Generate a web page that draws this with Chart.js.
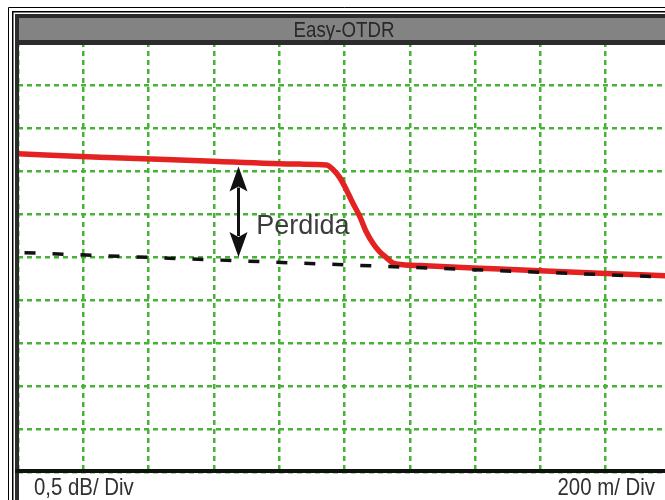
<!DOCTYPE html>
<html>
<head>
<meta charset="utf-8">
<title>Easy-OTDR</title>
<script src="https://cdn.jsdelivr.net/npm/chart.js@4/dist/chart.umd.min.js"></script>
<style>
  html, body { margin: 0; padding: 0; background: #fff; overflow: hidden; width: 665px; height: 500px; }
  #wrap { position: relative; width: 680px; height: 500px; }
</style>
</head>
<body>
<div id="wrap"><canvas id="otdr" width="680" height="500"></canvas></div>
<script>
// OTDR trace: distance along the fibre (m) and relative level (dB)
const traceDist = [0, 250, 557, 863, 945, 964, 986, 1006, 1025, 1047, 1067, 1087, 1108, 1129, 1148, 1179, 1231, 1476, 1782, 2000];
const traceLoss = [3.70, 3.66, 3.62, 3.58, 3.57, 3.52, 3.42, 3.28, 3.13, 2.97, 2.79, 2.66, 2.56, 2.49, 2.43, 2.41, 2.40, 2.36, 2.31, 2.28];

// Reference line extended back from the fibre after the event
const refDist = [20, 2000];
const refLoss = [2.55, 2.265];

// Grid divisions: 200 m per division, 0.5 dB per division
const distTicks = [0, 200, 400, 600, 800, 1000, 1200, 1400, 1600, 1800, 2000];
const lossTicks = [0, 0.5, 1, 1.5, 2, 2.5, 3, 3.5, 4, 4.5, 5];

// Texts
const titleText = 'Easy-OTDR';
const lossScaleText = '0,5 dB/ Div';
const distScaleText = '200 m/ Div';
const lossLabel = 'Perdida';

// Loss marker (double arrow) between the trace and the reference line
const lossMarkDist = 673;
const lossMarkTop = 3.552;
const lossMarkBottom = 2.50;
const lossLabelDist = 730;
const lossLabelLevel = 2.767;

const GRID_GREEN = '#46b236';
const NARROW = 0.85;

function narrowText(ctx, text, x, y, align) {
  ctx.save();
  ctx.translate(x, y);
  ctx.scale(NARROW, 1);
  ctx.textAlign = align;
  ctx.fillText(text, 0, 0);
  ctx.restore();
}

const otdrFrame = {
  id: 'otdrFrame',
  beforeDraw(chart) {
    const ctx = chart.ctx;
    ctx.save();
    ctx.fillStyle = '#ffffff';
    ctx.fillRect(0, 0, chart.width, chart.height);
    ctx.restore();
  },
  afterDatasetsDraw(chart) {
    const ctx = chart.ctx;
    const xs = chart.scales.x, ys = chart.scales.y;
    const ax = Math.round(xs.getPixelForValue(lossMarkDist)) + 0.5;
    const yTop = ys.getPixelForValue(lossMarkTop);
    const yBot = ys.getPixelForValue(lossMarkBottom);
    const headLen = 25, headHalf = 9;
    ctx.save();
    ctx.fillStyle = '#111';
    ctx.strokeStyle = '#111';
    ctx.lineWidth = 3;
    ctx.beginPath();
    ctx.moveTo(ax, yTop + headLen - 4);
    ctx.lineTo(ax, yBot - headLen + 4);
    ctx.stroke();
    // upper head
    ctx.beginPath();
    ctx.moveTo(ax, yTop);
    ctx.lineTo(ax + headHalf, yTop + headLen);
    ctx.lineTo(ax, yTop + headLen - 5);
    ctx.lineTo(ax - headHalf, yTop + headLen);
    ctx.closePath();
    ctx.fill();
    // lower head
    ctx.beginPath();
    ctx.moveTo(ax, yBot);
    ctx.lineTo(ax + headHalf, yBot - headLen);
    ctx.lineTo(ax, yBot - headLen + 5);
    ctx.lineTo(ax - headHalf, yBot - headLen);
    ctx.closePath();
    ctx.fill();
    // label
    ctx.font = '27px "Liberation Sans", Arial, sans-serif';
    ctx.fillStyle = '#3c3c3c';
    ctx.textAlign = 'left';
    ctx.textBaseline = 'alphabetic';
    ctx.fillText(lossLabel, xs.getPixelForValue(lossLabelDist), ys.getPixelForValue(lossLabelLevel));
    ctx.restore();
  },
  afterDraw(chart) {
    const ctx = chart.ctx;
    const W = chart.width, H = chart.height;
    ctx.save();
    // outer double rule
    ctx.strokeStyle = '#000';
    ctx.lineWidth = 1;
    ctx.beginPath();
    ctx.moveTo(8.5, H); ctx.lineTo(8.5, 7.5); ctx.lineTo(W, 7.5);
    ctx.stroke();
    ctx.lineWidth = 1.5;
    ctx.beginPath();
    ctx.moveTo(12.75, H); ctx.lineTo(12.75, 11.75); ctx.lineTo(W, 11.75);
    ctx.stroke();
    // title bar
    ctx.fillStyle = '#2c2c2c';
    ctx.fillRect(15, 14, W - 15, 31);
    ctx.fillStyle = '#838383';
    ctx.fillRect(19, 18, W - 19, 22);
    // left edge of the screen
    ctx.fillStyle = '#2c2c2c';
    ctx.fillRect(15, 14, 4, H - 14);
    // bottom edge of the grid
    ctx.fillStyle = '#111';
    ctx.fillRect(15, 469, W - 15, 4);
    // texts
    ctx.textBaseline = 'alphabetic';
    ctx.fillStyle = '#282828';
    ctx.font = '22px "Liberation Sans", Arial, sans-serif';
    narrowText(ctx, titleText, 344, 37, 'center');
    ctx.fillStyle = '#303030';
    ctx.font = '24px "Liberation Sans", Arial, sans-serif';
    narrowText(ctx, lossScaleText, 34, 495, 'left');
    narrowText(ctx, distScaleText, 655, 495, 'right');
    ctx.restore();
  }
};

const toPoints = (xs, ys) => xs.map((x, i) => ({ x: x, y: ys[i] }));

new Chart(document.getElementById('otdr'), {
  type: 'line',
  data: {
    datasets: [
      {
        label: 'Referencia',
        data: toPoints(refDist, refLoss),
        borderColor: '#111',
        borderWidth: 3.5,
        borderDash: [11, 17],
        pointRadius: 0,
        fill: false
      },
      {
        label: 'Traza',
        data: toPoints(traceDist, traceLoss),
        borderColor: '#e52222',
        borderWidth: 5.5,
        pointRadius: 0,
        cubicInterpolationMode: 'monotone',
        fill: false
      }
    ]
  },
  options: {
    responsive: false,
    animation: false,
    devicePixelRatio: 1,
    layout: { padding: { left: 18, top: 42, right: 9, bottom: 28 } },
    plugins: {
      legend: { display: false },
      tooltip: { enabled: false },
      title: { display: false }
    },
    scales: {
      x: {
        type: 'linear',
        min: distTicks[0],
        max: distTicks[distTicks.length - 1],
        afterBuildTicks: s => { s.ticks = distTicks.map(v => ({ value: v })); },
        ticks: { display: false },
        grid: { color: GRID_GREEN, lineWidth: 2.5, drawTicks: false },
        border: { display: false, dash: [5, 4] }
      },
      y: {
        type: 'linear',
        min: lossTicks[0],
        max: lossTicks[lossTicks.length - 1],
        afterBuildTicks: s => { s.ticks = lossTicks.map(v => ({ value: v })); },
        ticks: { display: false },
        grid: { color: GRID_GREEN, lineWidth: 2.5, drawTicks: false },
        border: { display: false, dash: [5, 4] }
      }
    }
  },
  plugins: [otdrFrame]
});
</script>
</body>
</html>
